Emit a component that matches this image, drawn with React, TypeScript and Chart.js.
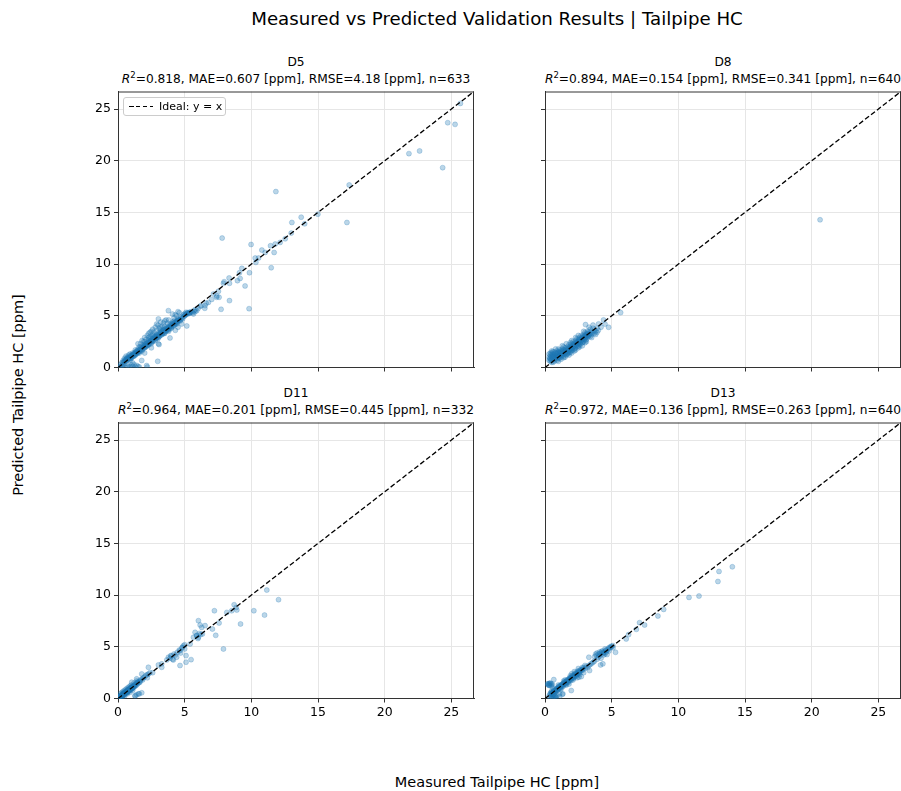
import React, { useEffect, useRef } from "react";
import { Chart, registerables } from "chart.js";

Chart.register(...registerables);

const FIG_TITLE = "Measured vs Predicted Validation Results | Tailpipe HC";
const X_LABEL = "Measured Tailpipe HC [ppm]";
const Y_LABEL = "Predicted Tailpipe HC [ppm]";
const AXIS_MAX = 26.7;
const TICK_VALUES = [0, 5, 10, 15, 20, 25];

const PANEL_NAMES = ["D5", "D8", "D11", "D13"];
const R2 = ["0.818", "0.894", "0.964", "0.972"];
const MAE = ["0.607", "0.154", "0.201", "0.136"];
const RMSE = ["4.18", "0.341", "0.445", "0.263"];
const N = ["633", "640", "332", "640"];

// [measured, predicted]
const D5_POINTS: [number, number][] = [
  [25.68, 25.55], [24.73, 23.68], [25.28, 23.52], [21.82, 20.69], [22.62, 20.95], [24.35, 19.33],
  [11.84, 17.02], [17.34, 17.66], [14.99, 14.83], [17.17, 14.03], [13.74, 14.54], [13.04, 14.03],
  [14.0, 13.9], [12.99, 13.0], [7.81, 12.52], [9.98, 11.9], [11.44, 11.78], [11.79, 11.94],
  [12.16, 12.1], [12.54, 12.45], [10.79, 11.36], [11.04, 11.13], [11.71, 11.13], [10.29, 10.59],
  [10.54, 10.59], [10.34, 10.17], [11.49, 9.65], [9.86, 9.17], [9.29, 9.59], [9.11, 9.17],
  [8.33, 8.66], [7.96, 8.3], [7.91, 8.14], [8.36, 8.14], [8.96, 8.4], [9.16, 8.62], [9.53, 7.89],
  [7.53, 7.37], [7.16, 7.11], [7.41, 6.92], [7.58, 6.79], [7.03, 6.59], [6.78, 6.3], [6.61, 6.21],
  [8.36, 6.47], [6.23, 5.98], [6.51, 5.73], [7.73, 5.63], [9.83, 5.69], [6.16, 5.92], [5.9, 5.5],
  [5.78, 5.4], [5.66, 5.18], [5.4, 5.28], [5.1, 5.34], [5.16, 4.02], [6.53, 5.99], [7.4, 6.79],
  [0.3, 0.5], [0.4, 0.7], [0.5, 0.6], [0.5, 0.9], [0.6, 0.8], [0.6, 1.1], [0.7, 0.7], [0.7, 1.0],
  [0.8, 0.9], [0.8, 1.2], [0.9, 1.0], [0.9, 1.3], [1.0, 1.1], [1.0, 0.9], [1.1, 1.2], [1.1, 1.4],
  [1.2, 1.3], [1.2, 1.1], [1.3, 1.5], [1.3, 1.2], [1.4, 1.4], [1.4, 1.6], [1.5, 1.5], [1.5, 1.8],
  [1.6, 1.6], [1.6, 1.4], [1.7, 1.8], [1.7, 2.0], [1.8, 1.8], [1.8, 1.6], [1.9, 2.0], [1.9, 2.2],
  [2.0, 2.1], [2.0, 1.9], [2.1, 2.3], [2.1, 2.0], [2.2, 2.4], [2.2, 2.2], [2.3, 2.6], [2.3, 2.2],
  [2.4, 2.5], [2.4, 2.8], [2.5, 2.6], [2.5, 2.3], [2.6, 2.9], [2.6, 2.5], [2.7, 2.8], [2.7, 3.1],
  [2.8, 3.0], [2.8, 2.6], [2.9, 3.2], [2.9, 2.9], [3.0, 3.1], [3.0, 2.8], [3.1, 3.4], [3.1, 3.0],
  [3.2, 3.3], [3.2, 3.6], [3.3, 3.2], [3.3, 3.5], [3.4, 3.4], [3.4, 3.7], [3.5, 3.5], [3.5, 3.3],
  [3.6, 3.8], [3.6, 3.6], [3.7, 3.7], [3.7, 3.9], [3.8, 3.8], [3.8, 3.5], [3.9, 4.0], [3.9, 4.2],
  [4.0, 4.0], [4.0, 3.8], [4.1, 4.2], [4.1, 4.4], [4.2, 4.1], [4.2, 4.5], [4.3, 4.3], [4.4, 4.5],
  [4.4, 4.2], [4.5, 4.7], [4.5, 4.5], [4.6, 4.6], [4.7, 4.9], [4.7, 4.6], [4.8, 4.8], [4.9, 5.1],
  [5.0, 5.0], [5.0, 5.2], [5.1, 5.1], [5.2, 5.3], [5.3, 5.2], [5.4, 5.3], [5.5, 5.4], [5.6, 5.3],
  [5.7, 5.5], [5.8, 5.6], [6.0, 5.7],
  [1.5, 2.3], [1.8, 2.6], [2.0, 2.9], [2.3, 3.3], [2.5, 3.5], [2.6, 3.7], [2.8, 3.9], [3.0, 4.1],
  [3.2, 4.4], [3.4, 4.3], [3.6, 4.6], [3.78, 5.5], [3.03, 4.7], [4.5, 5.4], [4.08, 5.17], [4.3, 5.1],
  [2.2, 3.1], [2.4, 3.4], [3.5, 4.5], [2.9, 4.2],
  [2.0, 1.4], [2.5, 1.9], [3.03, 2.29], [3.08, 2.22], [3.9, 2.86], [4.3, 3.6], [4.78, 4.21], [4.5, 3.9],
  [0.5, 0.35], [0.7, 0.2], [0.8, 0.1], [0.9, 0.05], [1.0, 0.25], [1.1, 0.1], [1.2, 0.3], [1.3, 0.05],
  [1.4, 0.2], [1.5, 0.1], [1.6, 0.05], [1.78, 0.68], [2.15, 0.19], [2.2, 0.05], [0.9, 0.68], [2.98, 0.6],
  [0.6, 0.0], [1.1, 0.45], [0.3, 0.1], [0.4, 0.3], [0.1, 0.05], [0.2, 0.3], [0.2, 0.1], [0.3, 0.2],
  [0.35, 0.45], [0.45, 0.55], [0.55, 0.75], [0.65, 0.7], [0.75, 0.95], [0.85, 0.85], [0.95, 1.15],
  [1.05, 1.0], [1.15, 1.3], [1.25, 1.2], [1.35, 1.45], [1.45, 1.35], [1.55, 1.7], [1.65, 1.55],
  [1.75, 1.9], [1.85, 1.75], [1.95, 2.1], [2.05, 2.0], [2.15, 2.35], [2.25, 2.15], [2.35, 2.5],
  [2.45, 2.4], [2.55, 2.75], [2.65, 2.6], [2.75, 2.95], [2.85, 2.8], [2.95, 3.1], [3.05, 2.95],
  [3.15, 3.3], [3.25, 3.15], [3.35, 3.5], [3.45, 3.3], [3.55, 3.7], [3.65, 3.55], [3.75, 3.85],
  [3.85, 3.7], [3.95, 4.1], [4.05, 3.95], [4.15, 4.3], [4.25, 4.15], [4.35, 4.4], [4.45, 4.35],
  [4.55, 4.6], [4.65, 4.5], [4.75, 4.75], [4.85, 4.7], [4.95, 4.95], [5.05, 5.1], [5.15, 5.2],
  [5.25, 5.25], [5.35, 5.35], [1.3, 1.7], [1.7, 2.3], [2.1, 2.7], [2.7, 3.4], [3.1, 3.8], [3.3, 4.0],
  [3.7, 4.3], [4.2, 4.8], [4.4, 5.0], [4.6, 5.3], [2.4, 3.0], [1.9, 2.5],
  [0.55, 0.6], [0.65, 0.85], [0.75, 0.8], [0.85, 1.0], [0.95, 0.9], [1.05, 1.2], [1.15, 1.1],
  [1.25, 1.4], [1.35, 1.3], [1.45, 1.6], [1.55, 1.5], [1.65, 1.75], [1.75, 1.7], [1.85, 1.95],
  [1.95, 1.9], [2.05, 2.2], [2.15, 2.1], [2.25, 2.4], [2.35, 2.3], [2.45, 2.6], [2.55, 2.5],
  [2.65, 2.8], [2.75, 2.7], [2.85, 3.0], [2.95, 2.9], [3.05, 3.2], [3.15, 3.1], [3.25, 3.4],
  [3.35, 3.3], [3.45, 3.6], [3.55, 3.45], [3.65, 3.75], [3.75, 3.6], [3.85, 3.95], [3.95, 3.85],
  [4.05, 4.2], [4.15, 4.05], [4.25, 4.35], [4.35, 4.25], [4.45, 4.55], [2.0, 2.5], [2.3, 2.9],
  [2.6, 3.2], [2.9, 3.6], [3.2, 3.9], [1.6, 2.0], [3.5, 4.0], [3.8, 4.6],
];

const D8_POINTS: [number, number][] = [
  [0.3, 0.7], [0.3, 1.0], [0.4, 0.6], [0.4, 0.9], [0.4, 1.2], [0.5, 0.8], [0.5, 1.1], [0.5, 1.4],
  [0.6, 0.7], [0.6, 1.0], [0.6, 1.3], [0.7, 0.9], [0.7, 1.2], [0.7, 1.5], [0.8, 0.8], [0.8, 1.1],
  [0.8, 1.4], [0.9, 1.0], [0.9, 1.3], [0.9, 1.6], [1.0, 0.9], [1.0, 1.2], [1.0, 1.5], [1.1, 1.1],
  [1.1, 1.4], [1.1, 1.7], [1.2, 1.0], [1.2, 1.3], [1.2, 1.6], [1.3, 1.2], [1.3, 1.5], [1.3, 1.8],
  [1.4, 1.1], [1.4, 1.4], [1.4, 1.7], [1.5, 1.3], [1.5, 1.6], [1.5, 1.9], [1.6, 1.2], [1.6, 1.5],
  [1.6, 1.8], [1.7, 1.4], [1.7, 1.7], [1.7, 2.0], [1.8, 1.6], [1.8, 1.9], [1.8, 2.2], [1.9, 1.5],
  [1.9, 1.8], [1.9, 2.1], [2.0, 1.7], [2.0, 2.0], [2.0, 2.3], [2.1, 1.9], [2.1, 2.2], [2.1, 2.5],
  [2.2, 1.8], [2.2, 2.1], [2.2, 2.4], [2.3, 2.0], [2.3, 2.3], [2.3, 2.6], [2.4, 2.2], [2.4, 2.5],
  [2.4, 2.8], [2.5, 2.1], [2.5, 2.4], [2.5, 2.7], [2.6, 2.3], [2.6, 2.6], [2.6, 2.9], [2.7, 2.5],
  [2.7, 2.8], [2.7, 3.1], [2.8, 2.4], [2.8, 2.7], [2.8, 3.0], [2.9, 2.6], [2.9, 2.9], [2.9, 3.2],
  [3.0, 2.8], [3.0, 3.1], [3.0, 3.4], [3.1, 2.7], [3.1, 3.0], [3.1, 3.3], [3.2, 2.9], [3.2, 3.2],
  [3.2, 3.5], [3.3, 3.1], [3.3, 3.4], [3.4, 3.0], [3.4, 3.3], [3.4, 3.7], [3.5, 3.2], [3.5, 3.5],
  [3.6, 3.4], [3.6, 3.8], [3.7, 3.3], [3.7, 3.6], [3.8, 3.5], [3.9, 3.8], [4.0, 3.6], [3.04, 4.15],
  [4.02, 4.22], [4.39, 4.6], [4.77, 3.89], [5.67, 5.31], [1.0, 0.6], [1.5, 1.0], [2.0, 1.4],
  [2.5, 1.9], [3.0, 2.4], [0.6, 0.5], [0.9, 0.7], [1.2, 0.8], [1.8, 1.2], [2.3, 1.7], [2.8, 2.1],
  [0.5, 1.6], [0.8, 1.8], [1.3, 2.1], [1.6, 2.3], [2.0, 2.6], [2.5, 3.1], [3.3, 3.9], [3.6, 4.1],
  [4.2, 3.9], [4.5, 4.2], [20.63, 14.29],
  [0.35, 0.85], [0.45, 1.05], [0.55, 0.95], [0.65, 1.15], [0.75, 1.05], [0.85, 1.25], [0.95, 1.15],
  [1.05, 1.35], [1.15, 1.25], [1.25, 1.45], [1.35, 1.35], [1.45, 1.55], [1.55, 1.45], [1.65, 1.65],
  [1.75, 1.55], [1.85, 1.75], [1.95, 1.95], [2.05, 1.85], [2.15, 2.05], [2.25, 2.25], [2.35, 2.15],
  [2.45, 2.35], [2.55, 2.55], [2.65, 2.45], [2.75, 2.65], [2.85, 2.85], [2.95, 2.75], [3.05, 2.95],
  [3.15, 3.15], [3.25, 3.05], [3.35, 3.25], [0.4, 1.4], [0.6, 1.55], [0.7, 0.6], [1.1, 0.9],
  [1.4, 0.95], [1.7, 1.3], [2.2, 1.6], [2.6, 2.0], [3.1, 2.5], [3.5, 2.9], [3.8, 3.2], [3.9, 3.4],
  [2.9, 3.5], [2.3, 2.9], [1.9, 2.4], [1.4, 2.0], [1.0, 1.8], [0.3, 1.3], [0.5, 0.5],
  [0.45, 0.75], [0.55, 1.25], [0.65, 0.85], [0.75, 1.35], [0.85, 0.95], [0.95, 1.45], [1.05, 1.05],
  [1.15, 1.55], [1.25, 1.15], [1.35, 1.65], [1.45, 1.25], [1.55, 1.75], [1.65, 1.35], [1.75, 1.85],
  [1.85, 1.45], [1.95, 2.05], [2.05, 1.65], [2.15, 2.25], [2.25, 1.85], [2.35, 2.45], [2.45, 2.05],
  [2.55, 2.65], [2.65, 2.25], [2.75, 2.85], [2.85, 2.45], [2.95, 3.05], [3.05, 2.65], [3.15, 3.25],
  [1.0, 1.0], [1.5, 1.5], [2.0, 1.9], [2.5, 2.5], [3.0, 3.0],
];

const D11_POINTS: [number, number][] = [
  [11.16, 10.49], [12.04, 9.56], [10.19, 8.49], [10.99, 8.07], [9.19, 7.21], [8.71, 9.07],
  [8.86, 8.81], [8.53, 8.49], [8.91, 8.56], [7.23, 8.49], [8.16, 8.33], [7.58, 7.3], [7.08, 6.72],
  [7.33, 6.11], [7.91, 4.79], [6.03, 7.53], [6.16, 7.11], [6.28, 6.88], [6.53, 7.05], [5.78, 6.4],
  [5.9, 6.08], [6.03, 5.92], [5.66, 5.92], [6.33, 6.24], [5.41, 5.28], [5.48, 3.76], [5.1, 4.15],
  [5.1, 3.51], [4.65, 3.19], [4.83, 4.95], [4.65, 4.63], [4.45, 4.47], [4.2, 4.31], [3.96, 4.15],
  [3.78, 3.99], [3.66, 3.73], [4.15, 3.73], [3.28, 3.35], [3.03, 3.25], [3.28, 3.02], [2.28, 3.02],
  [2.28, 2.38], [1.78, 2.38], [1.4, 1.9], [1.03, 1.58], [1.78, 0.55], [1.4, 0.36], [1.28, 0.22],
  [1.6, 0.45], [1.53, 0.45], [1.28, 0.29],
  [4.0, 4.1], [4.3, 4.2], [4.6, 4.7], [4.9, 5.1], [5.0, 4.8], [4.7, 4.4], [4.4, 4.0], [3.9, 3.9],
  [4.1, 3.8], [4.8, 4.9], [5.0, 5.2], [5.9, 6.1], [6.0, 5.8], [6.1, 6.3], [6.2, 6.2],
  [0.05, 0.1], [0.1, 0.05], [0.1, 0.2], [0.15, 0.15], [0.2, 0.3], [0.2, 0.1], [0.25, 0.25],
  [0.3, 0.4], [0.3, 0.2], [0.35, 0.35], [0.4, 0.5], [0.4, 0.3], [0.45, 0.45], [0.5, 0.6], [0.5, 0.4],
  [0.55, 0.55], [0.6, 0.7], [0.6, 0.5], [0.65, 0.65], [0.7, 0.8], [0.7, 0.6], [0.75, 0.75],
  [0.8, 0.9], [0.8, 0.7], [0.85, 0.85], [0.9, 1.0], [0.9, 0.8], [0.95, 0.95], [1.0, 1.1], [1.0, 0.9],
  [1.05, 1.05], [1.1, 1.2], [1.1, 1.0], [1.15, 1.15], [1.2, 1.3], [1.2, 1.1], [1.25, 1.25],
  [1.3, 1.4], [1.3, 1.2], [1.4, 1.5], [1.4, 1.3], [1.5, 1.6], [1.5, 1.45], [1.6, 1.7], [1.6, 1.55],
  [1.7, 1.8], [1.8, 1.9], [1.9, 2.0], [2.0, 2.1], [2.2, 2.3], [2.4, 2.5], [0.3, 0.6], [0.5, 0.8],
  [0.7, 1.0], [0.9, 1.2], [0.2, 0.5], [0.4, 0.7], [0.6, 0.9], [0.8, 1.1], [1.0, 1.3], [1.2, 1.5],
  [1.4, 1.7], [0.3, 0.1], [0.5, 0.25], [0.7, 0.45], [0.9, 0.6], [1.1, 0.8], [2.2, 2.0], [2.6, 2.5],
  [0.12, 0.12], [0.18, 0.22], [0.22, 0.18], [0.28, 0.32], [0.32, 0.28], [0.38, 0.42], [0.42, 0.38],
  [0.48, 0.52], [0.52, 0.48], [0.58, 0.62], [0.62, 0.58], [0.68, 0.72], [0.72, 0.68], [0.78, 0.82],
  [0.82, 0.78], [0.88, 0.92], [0.92, 0.88], [0.98, 1.02], [1.02, 0.98], [1.08, 1.12], [1.12, 1.08],
  [1.22, 1.2], [1.35, 1.35], [1.45, 1.55], [1.65, 1.6], [1.85, 1.8], [2.1, 2.25], [0.03, 0.05],
  [0.08, 0.0], [0.0, 0.1], [0.05, 0.0], [0.15, 0.25], [0.25, 0.15], [0.35, 0.45], [0.45, 0.35],
  [0.55, 0.65], [0.65, 0.55], [0.75, 0.85], [0.85, 0.75], [0.95, 1.05], [1.05, 0.95],
];

const D13_POINTS: [number, number][] = [
  [14.05, 12.74], [13.05, 12.29], [12.97, 11.32], [11.55, 9.91], [10.8, 9.78], [8.9, 8.62],
  [8.47, 7.98], [7.47, 7.11], [7.09, 7.34], [6.85, 6.69], [6.27, 6.18], [6.09, 5.76], [5.09, 5.12],
  [5.29, 4.47], [4.34, 3.35], [4.17, 3.25], [3.29, 3.99], [3.34, 2.7], [2.72, 2.12], [2.54, 2.06],
  [1.97, 0.77], [1.09, 0.45], [1.34, 0.45], [0.66, 1.83], [0.21, 1.42], [0.46, 1.42], [0.33, 1.26],
  [0.71, 0.29], [0.84, 0.13], [4.59, 4.7], [4.09, 4.31], [4.84, 4.95], [3.72, 4.05], [4.39, 4.47],
  [0.3, 0.2], [0.4, 0.5], [0.5, 0.4], [0.5, 0.7], [0.6, 0.6], [0.7, 0.8], [0.7, 0.5], [0.8, 0.9],
  [0.8, 0.7], [0.9, 1.0], [0.9, 0.8], [1.0, 1.1], [1.0, 0.9], [1.1, 1.2], [1.1, 1.0], [1.2, 1.3],
  [1.2, 1.1], [1.3, 1.4], [1.3, 1.2], [1.4, 1.5], [1.4, 1.3], [1.5, 1.6], [1.5, 1.4], [1.6, 1.7],
  [1.6, 1.5], [1.7, 1.8], [1.7, 1.6], [1.8, 1.9], [1.8, 1.7], [1.9, 2.0], [1.9, 1.8], [2.0, 2.1],
  [2.0, 1.9], [2.1, 2.2], [2.1, 2.0], [2.2, 2.3], [2.2, 2.1], [2.3, 2.4], [2.3, 2.2], [2.4, 2.5],
  [2.4, 2.3], [2.5, 2.6], [2.5, 2.4], [2.6, 2.7], [2.6, 2.5], [2.7, 2.8], [2.8, 2.7], [2.9, 3.0],
  [3.0, 2.9], [3.1, 3.1], [3.2, 3.0], [3.4, 3.3], [3.6, 3.5], [3.8, 4.3], [3.9, 4.4], [4.0, 4.3],
  [4.1, 4.5], [4.2, 4.4], [4.3, 4.6], [4.4, 4.2], [4.5, 4.8], [4.6, 4.5], [4.7, 4.7], [4.8, 4.6],
  [4.9, 4.9], [5.0, 5.0], [4.0, 4.0], [4.2, 3.9], [4.5, 4.3], [4.1, 4.1], [3.9, 3.8], [1.0, 1.3],
  [1.5, 1.8], [2.0, 2.4], [2.5, 2.9], [0.6, 0.3], [1.2, 0.9], [1.8, 1.4], [2.4, 2.0], [2.9, 2.5],
  [0.5, 0.2], [0.7, 0.1], [0.9, 0.3], [1.1, 0.2], [1.3, 0.4], [0.6, 0.0], [0.8, 0.05], [0.2, 1.4],
  [0.4, 1.5], [0.5, 1.3], [0.3, 1.3],
  [0.45, 0.45], [0.55, 0.55], [0.65, 0.65], [0.75, 0.75], [0.85, 0.85], [0.95, 0.95], [1.05, 1.05],
  [1.15, 1.15], [1.25, 1.25], [1.35, 1.35], [1.45, 1.45], [1.55, 1.55], [1.65, 1.65], [1.75, 1.75],
  [1.85, 1.85], [1.95, 1.95], [2.05, 2.05], [2.15, 2.15], [2.25, 2.25], [2.35, 2.35], [2.45, 2.45],
  [2.55, 2.55], [2.65, 2.65], [2.75, 2.75], [2.85, 2.85], [3.3, 3.2], [3.5, 3.4], [3.7, 3.6],
  [4.25, 4.55], [4.35, 4.35], [4.55, 4.65], [4.75, 4.85], [4.65, 4.25], [3.85, 4.15], [4.45, 4.45],
  [4.95, 5.05], [5.1, 4.9], [0.35, 1.45], [0.25, 1.3], [0.55, 1.4], [0.6, 1.0], [1.6, 1.3],
  [2.1, 1.8], [2.6, 2.3], [1.4, 1.7], [1.9, 2.2], [2.2, 2.6], [2.8, 3.0], [3.0, 3.2],
  [0.35, 0.35], [0.45, 0.6], [0.55, 0.45], [0.65, 0.75], [0.75, 0.6], [0.85, 0.95], [0.95, 0.8],
  [1.05, 1.2], [1.15, 0.95], [1.25, 1.35], [1.35, 1.15], [1.45, 1.6], [1.55, 1.35], [1.65, 1.8],
  [1.75, 1.55], [1.85, 2.0], [1.95, 1.75], [2.05, 2.25], [2.15, 1.95], [2.25, 2.45], [2.35, 2.15],
  [2.45, 2.65], [0.4, 0.1], [0.55, 0.05], [0.75, 0.2], [0.65, 0.4], [0.3, 1.45], [0.45, 1.2],
];

const PANEL_POINTS = [D5_POINTS, D8_POINTS, D11_POINTS, D13_POINTS];

// layout (pixels)
const AREA_LEFT = [118, 545, 118, 545];
const AREA_TOP = [91, 91, 422, 422];
const AREA_W = 356;
const AREA_H = 276;
const Y_AXIS_W = 50;
const X_AXIS_H = 30;
const PAD = 10;

const FONT = "'DejaVu Sans', sans-serif";

const frame = {
  id: "frame",
  afterDraw(chart: any) {
    const { ctx, chartArea: a } = chart;
    ctx.save();
    ctx.strokeStyle = "#333";
    ctx.lineWidth = 1;
    ctx.beginPath();
    ctx.moveTo(a.left, a.top + 0.5);
    ctx.lineTo(a.right, a.top + 0.5);
    ctx.moveTo(a.right - 0.5, a.top);
    ctx.lineTo(a.right - 0.5, a.bottom);
    ctx.stroke();
    ctx.restore();
  },
};

function Panel({ idx }: { idx: number }) {
  const ref = useRef<HTMLCanvasElement>(null);
  useEffect(() => {
    const canvas = ref.current;
    if (!canvas) return;
    const showX = idx >= 2;
    const showY = idx % 2 === 0;
    const pts = PANEL_POINTS[idx];
    const chart = new Chart(canvas, {
      type: "scatter",
      data: {
        datasets: [
          {
            data: [
              { x: 0, y: 0 },
              { x: AXIS_MAX, y: AXIS_MAX },
            ],
            showLine: true,
            borderColor: "#000",
            borderWidth: 1.3,
            borderDash: [5, 2.5],
            pointRadius: 0,
            fill: false,
          } as any,
          {
            data: pts.map((p) => ({ x: p[0], y: p[1] })),
            backgroundColor: "rgba(31,119,180,0.3)",
            borderColor: "rgba(31,119,180,0.3)",
            borderWidth: 0.8,
            pointRadius: 2.5,
          },
        ],
      },
      options: {
        responsive: false,
        maintainAspectRatio: false,
        devicePixelRatio: 1,
        animation: false,
        layout: { padding: { top: PAD, right: PAD, left: 0, bottom: 0 } },
        plugins: { legend: { display: false }, tooltip: { enabled: false } },
        scales: {
          x: {
            type: "linear",
            min: 0,
            max: AXIS_MAX,
            afterBuildTicks: (s: any) => {
              s.ticks = TICK_VALUES.map((v) => ({ value: v }));
            },
            afterFit: (s: any) => {
              s.height = X_AXIS_H;
            },
            grid: { color: "#e6e6e6", lineWidth: 1, tickColor: "#333", tickLength: 4, drawTicks: true },
            border: { color: "#333", width: 1 },
            ticks: {
              autoSkip: false,
              maxRotation: 0,
              padding: 3,
              color: "#000",
              font: { family: FONT, size: 12.5 },
              callback: (v: any) => (showX ? String(v) : ""),
            },
          },
          y: {
            type: "linear",
            min: 0,
            max: AXIS_MAX,
            afterBuildTicks: (s: any) => {
              s.ticks = TICK_VALUES.map((v) => ({ value: v }));
            },
            afterFit: (s: any) => {
              s.width = Y_AXIS_W;
            },
            grid: { color: "#e6e6e6", lineWidth: 1, tickColor: "#333", tickLength: 4, drawTicks: true },
            border: { color: "#333", width: 1 },
            ticks: {
              autoSkip: false,
              padding: 3,
              color: "#000",
              font: { family: FONT, size: 12.5 },
              callback: (v: any) => (showY ? String(v) : ""),
            },
          },
        },
      },
      plugins: [frame],
    });
    // Fit canvas so the plotting area lands exactly on the target rectangle
    for (let k = 0; k < 2; k++) {
      const ca = chart.chartArea;
      const dw = AREA_W - (ca.right - ca.left);
      const dh = AREA_H - (ca.bottom - ca.top);
      if (Math.abs(dw) < 0.5 && Math.abs(dh) < 0.5) break;
      chart.resize(chart.width + dw, chart.height + dh);
    }
    const ca = chart.chartArea;
    canvas.style.position = "absolute";
    canvas.style.left = AREA_LEFT[idx] - ca.left + "px";
    canvas.style.top = AREA_TOP[idx] - ca.top + "px";
    return () => chart.destroy();
  }, [idx]);

  const w = Y_AXIS_W + AREA_W + PAD;
  const h = PAD + AREA_H + X_AXIS_H;
  return (
    <canvas
      ref={ref}
      width={w}
      height={h}
      style={{
        position: "absolute",
        left: AREA_LEFT[idx] - Y_AXIS_W,
        top: AREA_TOP[idx] - PAD,
        width: w,
        height: h,
      }}
    />
  );
}

function Centered({ x, y, size, children, rotate }: any) {
  return (
    <div
      style={{
        position: "absolute",
        left: x,
        top: y,
        transform: `translate(-50%, -50%)${rotate ? " rotate(-90deg)" : ""}`,
        fontSize: size,
        lineHeight: 1,
        whiteSpace: "nowrap",
        color: "#000",
        fontFamily: FONT,
      }}
    >
      {children}
    </div>
  );
}

export default function App() {
  return (
    <div
      style={{
        position: "absolute",
        left: 0,
        top: 0,
        width: 901,
        height: 791,
        overflow: "hidden",
        background: "#fff",
        fontFamily: FONT,
      }}
    >
      <Centered x={497} y={19} size={18.2}>
        {FIG_TITLE}
      </Centered>
      {PANEL_NAMES.map((name, i) => {
        const cx = AREA_LEFT[i] + AREA_W / 2;
        const top = AREA_TOP[i];
        return (
          <React.Fragment key={name}>
            <Centered x={cx} y={top - 29} size={12.2}>
              {name}
            </Centered>
            <Centered x={cx} y={top - 12} size={12.2}>
              <i>R</i>
              <sup style={{ fontSize: 8.5, verticalAlign: 0, position: "relative", top: -5 }}>2</sup>={R2[i]}, MAE={MAE[i]} [ppm], RMSE={RMSE[i]} [ppm], n={N[i]}
            </Centered>
          </React.Fragment>
        );
      })}
      {PANEL_NAMES.map((_, i) => (
        <Panel key={i} idx={i} />
      ))}
      <div
        style={{
          position: "absolute",
          left: 123,
          top: 97,
          width: 101,
          height: 17,
          border: "1px solid #cccccc",
          borderRadius: 3,
          background: "rgba(255,255,255,0.85)",
        }}
      >
        <div
          style={{
            position: "absolute",
            left: 5,
            top: 8,
            width: 24,
            height: 1.4,
            background: "repeating-linear-gradient(to right, #000 0 4.5px, transparent 4.5px 7px)",
          }}
        />
        <div
          style={{
            position: "absolute",
            left: 35,
            top: 2.5,
            fontSize: 11,
            lineHeight: 1,
            fontFamily: FONT,
            whiteSpace: "nowrap",
          }}
        >
          Ideal: y = x
        </div>
      </div>
      <Centered x={497} y={782} size={14.5}>
        {X_LABEL}
      </Centered>
      <Centered x={18} y={395} size={14.5} rotate>
        {Y_LABEL}
      </Centered>
    </div>
  );
}
